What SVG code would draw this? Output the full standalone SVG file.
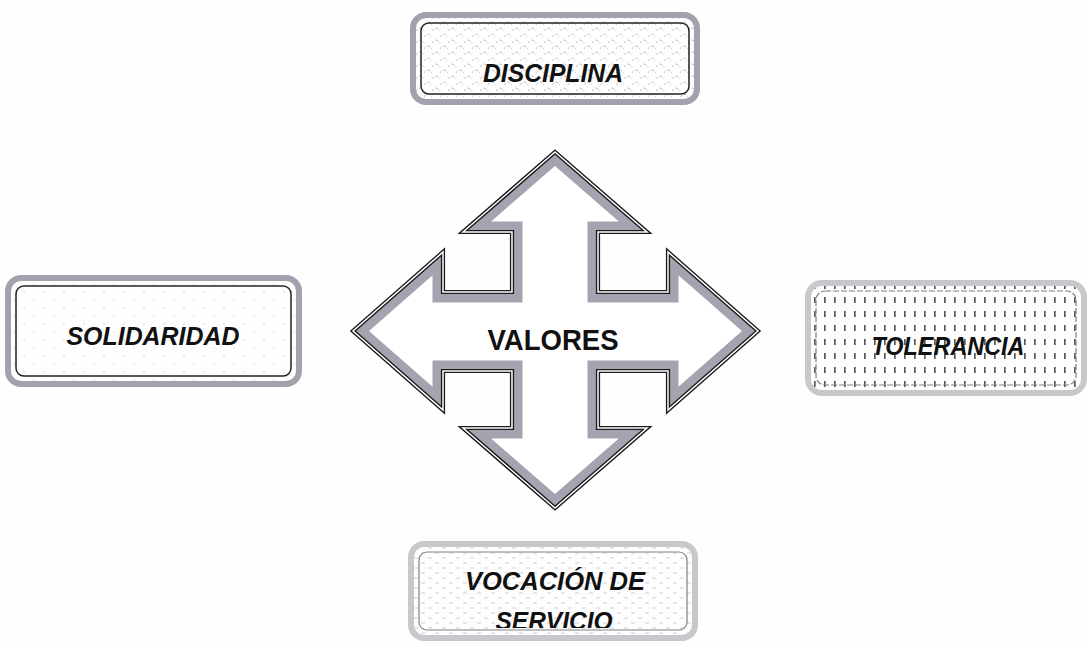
<svg xmlns="http://www.w3.org/2000/svg" width="1088" height="646" viewBox="0 0 1088 646">
<style>
.lbl{font-family:"Liberation Sans",Arial,sans-serif;font-weight:bold;font-style:italic;font-size:25px;fill:#111;text-anchor:middle}
.big{font-family:"Liberation Sans",Arial,sans-serif;font-weight:bold;font-size:29px;fill:#111;text-anchor:middle}
.frameD{stroke:#a3a1ae;stroke-width:6}
.frameL{stroke:#c8c8cc;stroke-width:6}
.innerD{fill:none;stroke:#222;stroke-width:1.5}
.innerL{fill:none;stroke:#808080;stroke-width:1.2}
</style>
<defs>
<pattern id="scales" width="16" height="12" patternUnits="userSpaceOnUse">
<path d="M0 7 Q4 1 8 7 M8 13 Q12 7 16 13 M8 1 Q12 -5 16 1" fill="none" stroke="#b4b4bc" stroke-width="0.9" stroke-dasharray="3 1.5"/>
</pattern>
<pattern id="dots" width="20" height="16" patternUnits="userSpaceOnUse">
<circle cx="4" cy="4" r="0.8" fill="#cfcfd4"/>
<circle cx="14" cy="12" r="0.8" fill="#d8d8dc"/>
</pattern>
<pattern id="vdash" width="10" height="14" patternUnits="userSpaceOnUse">
<rect x="4" y="3" width="1.7" height="6" fill="#5a5a5a"/>
</pattern>
<pattern id="faint" width="14" height="10" patternUnits="userSpaceOnUse">
<path d="M1 3 h4 M8 8 h4" stroke="#c9c9cd" stroke-width="0.9"/>
</pattern>
<polygon id="arrowShape" points="555,152 647,232 598,232 598,292 668,292 668,252 758,331 668,410 668,371 598,371 598,428 647,428 555,508 463,428 512,428 512,371 443,371 443,410 353,331 443,252 443,292 512,292 512,232 463,232"/>
<clipPath id="arrowClip"><use href="#arrowShape"/></clipPath>
<clipPath id="vocClip"><rect x="418" y="550" width="270" height="78"/></clipPath>
</defs>
<rect width="1088" height="646" fill="#fefefe"/>

<g id="connectors"></g>

<g id="valores">
<use href="#arrowShape" fill="#ffffff"/>
<use href="#arrowShape" fill="none" stroke="#a4a3af" stroke-width="21" clip-path="url(#arrowClip)" stroke-linejoin="miter"/>
<use href="#arrowShape" fill="none" stroke="#1a1a1a" stroke-width="4.2" stroke-linejoin="miter"/>
<use href="#arrowShape" fill="none" stroke="#ffffff" stroke-width="1.5" stroke-linejoin="miter"/>
<text class="big" x="553" y="350" textLength="131" lengthAdjust="spacingAndGlyphs">VALORES</text>
</g>

<g id="disciplina">
<rect x="413" y="15" width="284" height="87" rx="13" fill="url(#scales)" class="frameD"/>
<rect x="421" y="23" width="268" height="71" rx="8" class="innerD"/>
<text class="lbl" x="553" y="82" textLength="140" lengthAdjust="spacingAndGlyphs">DISCIPLINA</text>
</g>

<g id="solidaridad">
<rect x="8" y="278" width="291" height="106" rx="13" fill="url(#dots)" class="frameD"/>
<rect x="16" y="286" width="275" height="90" rx="8" class="innerD"/>
<text class="lbl" x="153" y="345" textLength="173" lengthAdjust="spacingAndGlyphs">SOLIDARIDAD</text>
</g>

<g id="tolerancia">
<rect x="808" y="283" width="276" height="110" rx="14" fill="url(#vdash)" class="frameL"/>
<rect x="816" y="291" width="260" height="94" rx="9" class="innerL" stroke-dasharray="6 2"/>
<text class="lbl" x="948" y="355" textLength="153" lengthAdjust="spacingAndGlyphs">TOLERANCIA</text>
</g>

<g id="vocacion">
<rect x="411" y="544" width="284" height="94" rx="13" fill="url(#faint)" class="frameL"/>
<rect x="419" y="552" width="268" height="78" rx="8" class="innerL"/>
<g clip-path="url(#vocClip)">
<text class="lbl" x="555" y="590" textLength="180" lengthAdjust="spacingAndGlyphs">VOCACIÓN DE</text>
<text class="lbl" x="554" y="629.5" textLength="117" lengthAdjust="spacingAndGlyphs">SERVICIO</text>
</g>
</g>
</svg>
